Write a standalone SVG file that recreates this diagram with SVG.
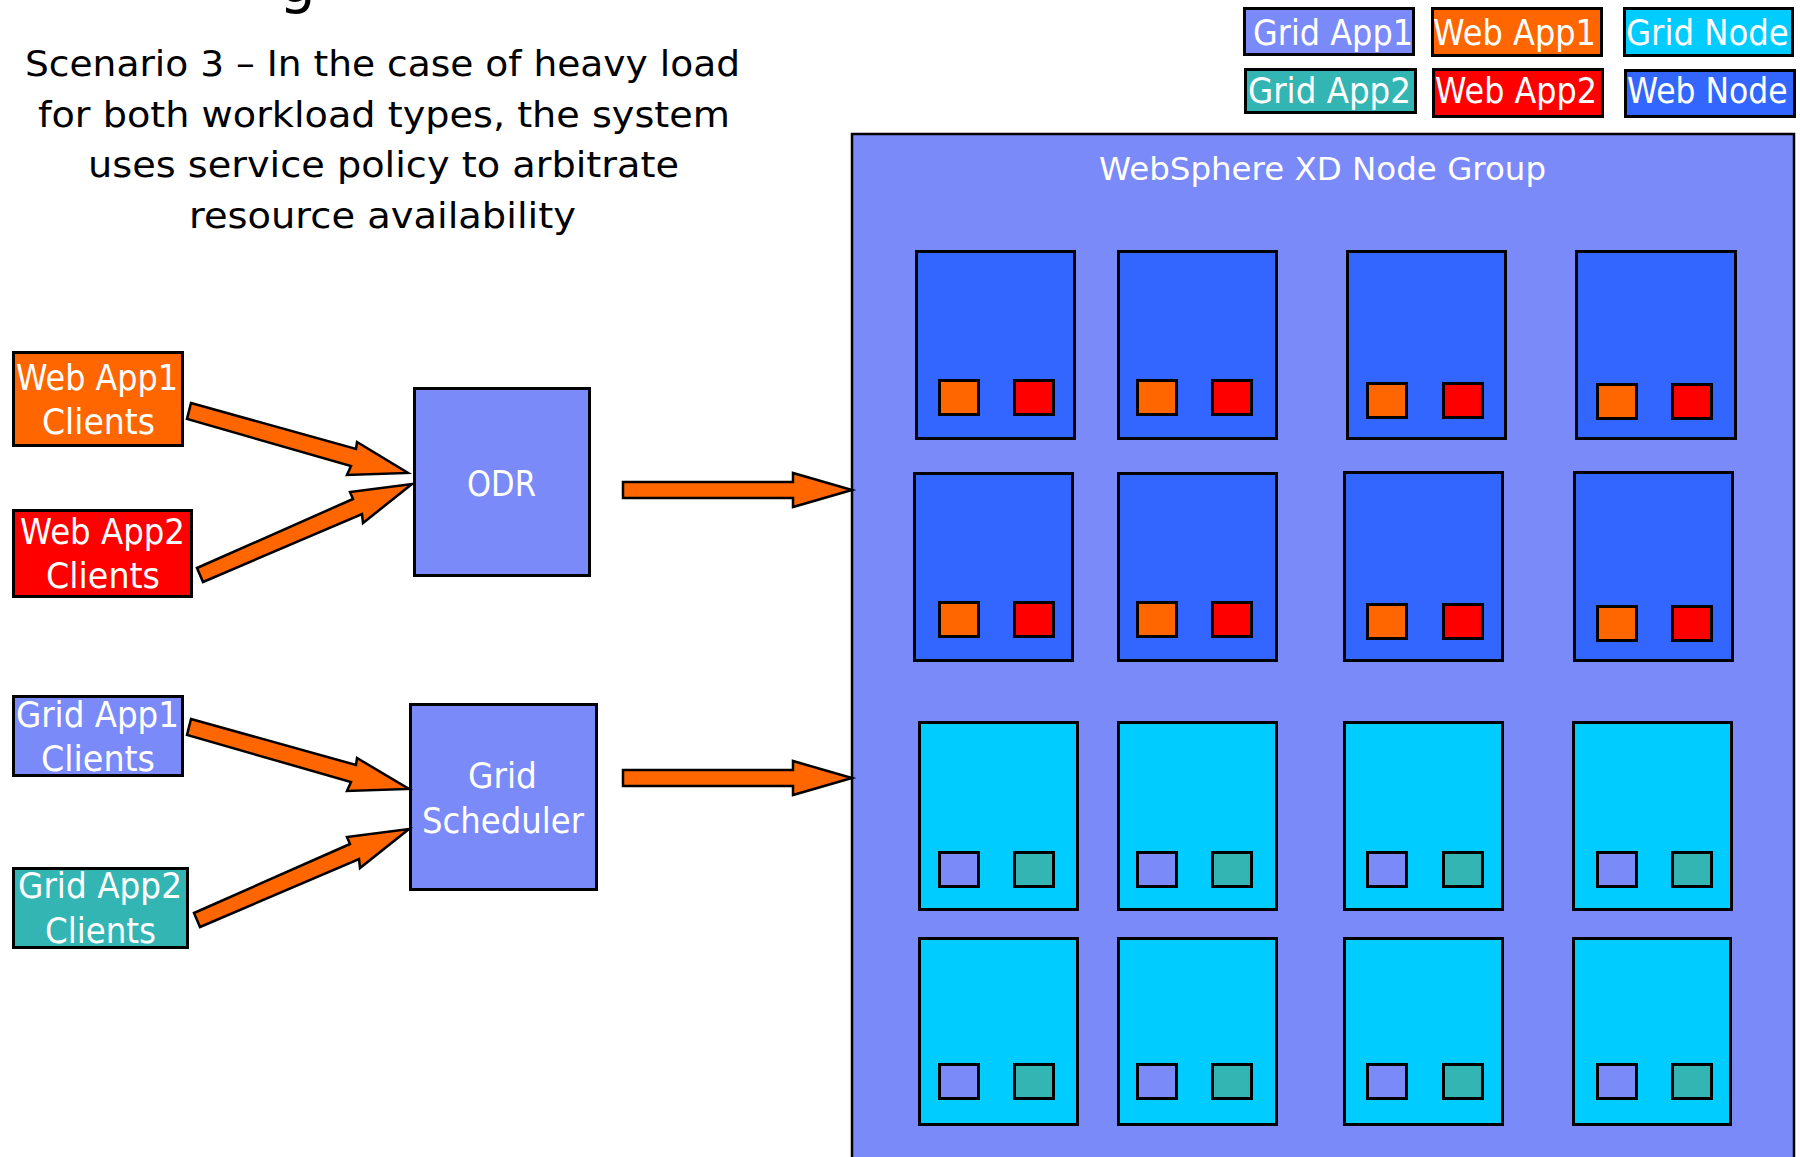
<svg xmlns="http://www.w3.org/2000/svg" width="1800" height="1157" viewBox="0 0 1800 1157">
<style>
text { font-family: "DejaVu Sans", "Liberation Sans", sans-serif; }
.w { fill: #FFFFFF; }
.k { fill: #000000; }
.box { stroke: #000000; stroke-width: 3; }
.grp { stroke: #000000; stroke-width: 2.5; }
.peri { fill: #7B8AF9; }
.orange { fill: #FF6600; }
.red { fill: #FF0000; }
.teal { fill: #33B5B3; }
.webn { fill: #3366FF; }
.gridn { fill: #00CCFF; }
.arrow { fill: #FF6600; stroke: #000000; stroke-width: 2.5; stroke-linejoin: miter; }
.f35 { font-size: 35px; }
.f36 { font-size: 36px; }
</style>
<rect x="0" y="0" width="1800" height="1157" fill="#FFFFFF"/>

<g id="title">
  <text class="k" x="279" y="2" font-size="58">g</text>
  <text class="k f36" x="25" y="76" textLength="715" lengthAdjust="spacingAndGlyphs">Scenario 3 – In the case of heavy load</text>
  <text class="k f36" x="38" y="127" textLength="692" lengthAdjust="spacingAndGlyphs">for both workload types, the system</text>
  <text class="k f36" x="88" y="177" textLength="591" lengthAdjust="spacingAndGlyphs">uses service policy to arbitrate</text>
  <text class="k f36" x="189" y="228" textLength="387" lengthAdjust="spacingAndGlyphs">resource availability</text>
</g>

<g id="legend">
  <g id="legend-grid-app1"><rect class="box peri" x="1244.5" y="8.5" width="169" height="46"/><text class="w f36" x="1253" y="45" textLength="160" lengthAdjust="spacingAndGlyphs">Grid App1</text></g>
  <g id="legend-web-app1"><rect class="box orange" x="1432.5" y="8.5" width="169" height="47"/><text class="w f36" x="1433" y="45" textLength="163" lengthAdjust="spacingAndGlyphs">Web App1</text></g>
  <g id="legend-grid-node"><rect class="box gridn" x="1624.5" y="8.5" width="168" height="47"/><text class="w f36" transform="translate(1626 45) scale(0.9 1)" x="0" y="0">Grid Node</text></g>
  <g id="legend-grid-app2"><rect class="box teal" x="1245.5" y="69.5" width="170" height="43"/><text class="w f36" x="1248" y="103" textLength="163" lengthAdjust="spacingAndGlyphs">Grid App2</text></g>
  <g id="legend-web-app2"><rect class="box red" x="1433.5" y="69.5" width="169" height="47"/><text class="w f36" x="1435" y="103" textLength="162" lengthAdjust="spacingAndGlyphs">Web App2</text></g>
  <g id="legend-web-node"><rect class="box webn" x="1625.5" y="70.5" width="169" height="46"/><text class="w f36" transform="translate(1627 103) scale(0.874 1)" x="0" y="0">Web Node</text></g>
</g>

<g id="web-app1-clients"><rect class="box orange" x="13.5" y="352.5" width="169" height="93"/><text class="w f35" x="16" y="390" textLength="162" lengthAdjust="spacingAndGlyphs">Web App1</text><text class="w f35" x="42" y="434" textLength="113" lengthAdjust="spacingAndGlyphs">Clients</text></g>
<g id="web-app2-clients"><rect class="box red" x="13.5" y="510.5" width="178" height="86"/><text class="w f35" x="20" y="544" textLength="165" lengthAdjust="spacingAndGlyphs">Web App2</text><text class="w f35" x="46" y="588" textLength="114" lengthAdjust="spacingAndGlyphs">Clients</text></g>
<g id="grid-app1-clients"><rect class="box peri" x="13.5" y="696.5" width="169" height="79"/><text class="w f35" x="16" y="727" textLength="163" lengthAdjust="spacingAndGlyphs">Grid App1</text><text class="w f35" x="41" y="771" textLength="114" lengthAdjust="spacingAndGlyphs">Clients</text></g>
<g id="grid-app2-clients"><rect class="box teal" x="13.5" y="868.5" width="174" height="79"/><text class="w f35" x="18" y="898" textLength="164" lengthAdjust="spacingAndGlyphs">Grid App2</text><text class="w f35" x="45" y="943" textLength="111" lengthAdjust="spacingAndGlyphs">Clients</text></g>

<g id="odr"><rect class="box peri" x="414.5" y="388.5" width="175" height="187"/><text class="w f36" x="467" y="496" textLength="69" lengthAdjust="spacingAndGlyphs">ODR</text></g>
<g id="grid-scheduler"><rect class="box peri" x="410.5" y="704.5" width="186" height="185"/><text class="w f36" x="468" y="788" textLength="69" lengthAdjust="spacingAndGlyphs">Grid</text><text class="w f36" x="422" y="833" textLength="162" lengthAdjust="spacingAndGlyphs">Scheduler</text></g>

<g id="node-group">
  <rect class="grp peri" x="852" y="134" width="942" height="1040"/>
  <text class="w" x="1099" y="180" font-size="32" textLength="447" lengthAdjust="spacingAndGlyphs">WebSphere XD Node Group</text>
</g>

<g id="web-node-1"><rect class="box webn" x="916.5" y="251.5" width="158" height="187"/><rect class="box orange" x="939.5" y="380.5" width="39" height="34"/><rect class="box red" x="1014.5" y="380.5" width="39" height="34"/></g>
<g id="web-node-2"><rect class="box webn" x="1118.5" y="251.5" width="158" height="187"/><rect class="box orange" x="1137.5" y="380.5" width="39" height="34"/><rect class="box red" x="1212.5" y="380.5" width="39" height="34"/></g>
<g id="web-node-3"><rect class="box webn" x="1347.5" y="251.5" width="158" height="187"/><rect class="box orange" x="1367.5" y="383.5" width="39" height="34"/><rect class="box red" x="1443.5" y="383.5" width="39" height="34"/></g>
<g id="web-node-4"><rect class="box webn" x="1576.5" y="251.5" width="159" height="187"/><rect class="box orange" x="1597.5" y="384.5" width="39" height="34"/><rect class="box red" x="1672.5" y="384.5" width="39" height="34"/></g>
<g id="web-node-5"><rect class="box webn" x="914.5" y="473.5" width="158" height="187"/><rect class="box orange" x="939.5" y="602.5" width="39" height="34"/><rect class="box red" x="1014.5" y="602.5" width="39" height="34"/></g>
<g id="web-node-6"><rect class="box webn" x="1118.5" y="473.5" width="158" height="187"/><rect class="box orange" x="1137.5" y="602.5" width="39" height="34"/><rect class="box red" x="1212.5" y="602.5" width="39" height="34"/></g>
<g id="web-node-7"><rect class="box webn" x="1344.5" y="472.5" width="158" height="188"/><rect class="box orange" x="1367.5" y="604.5" width="39" height="34"/><rect class="box red" x="1443.5" y="604.5" width="39" height="34"/></g>
<g id="web-node-8"><rect class="box webn" x="1574.5" y="472.5" width="158" height="188"/><rect class="box orange" x="1597.5" y="606.5" width="39" height="34"/><rect class="box red" x="1672.5" y="606.5" width="39" height="34"/></g>

<g id="grid-node-1"><rect class="box gridn" x="919.5" y="722.5" width="158" height="187"/><rect class="box peri" x="939.5" y="852.5" width="39" height="34"/><rect class="box teal" x="1014.5" y="852.5" width="39" height="34"/></g>
<g id="grid-node-2"><rect class="box gridn" x="1118.5" y="722.5" width="158" height="187"/><rect class="box peri" x="1137.5" y="852.5" width="39" height="34"/><rect class="box teal" x="1212.5" y="852.5" width="39" height="34"/></g>
<g id="grid-node-3"><rect class="box gridn" x="1344.5" y="722.5" width="158" height="187"/><rect class="box peri" x="1367.5" y="852.5" width="39" height="34"/><rect class="box teal" x="1443.5" y="852.5" width="39" height="34"/></g>
<g id="grid-node-4"><rect class="box gridn" x="1573.5" y="722.5" width="158" height="187"/><rect class="box peri" x="1597.5" y="852.5" width="39" height="34"/><rect class="box teal" x="1672.5" y="852.5" width="39" height="34"/></g>
<g id="grid-node-5"><rect class="box gridn" x="919.5" y="938.5" width="158" height="186"/><rect class="box peri" x="939.5" y="1064.5" width="39" height="34"/><rect class="box teal" x="1014.5" y="1064.5" width="39" height="34"/></g>
<g id="grid-node-6"><rect class="box gridn" x="1118.5" y="938.5" width="158" height="186"/><rect class="box peri" x="1137.5" y="1064.5" width="39" height="34"/><rect class="box teal" x="1212.5" y="1064.5" width="39" height="34"/></g>
<g id="grid-node-7"><rect class="box gridn" x="1344.5" y="938.5" width="158" height="186"/><rect class="box peri" x="1367.5" y="1064.5" width="39" height="34"/><rect class="box teal" x="1443.5" y="1064.5" width="39" height="34"/></g>
<g id="grid-node-8"><rect class="box gridn" x="1573.5" y="938.5" width="157" height="186"/><rect class="box peri" x="1597.5" y="1064.5" width="39" height="34"/><rect class="box teal" x="1672.5" y="1064.5" width="39" height="34"/></g>

<g id="connectors">
  <polygon class="arrow" points="191,403 356,449 357,442 408,473 347,475 351,466 187,419"/>
  <polygon class="arrow" points="197,568 353,499 350,492 412,484 363,523 362,514 203,582"/>
  <polygon class="arrow" points="623,482 793,482 793,473 852,490 793,507 793,498 623,498"/>
  <polygon class="arrow" points="191,719 356,765 357,758 409,789 347,791 351,782 187,735"/>
  <polygon class="arrow" points="194,913 350,844 347,837 409,829 360,868 359,859 200,927"/>
  <polygon class="arrow" points="623,770 793,770 793,761 852,778 793,795 793,786 623,786"/>
</g>
</svg>
